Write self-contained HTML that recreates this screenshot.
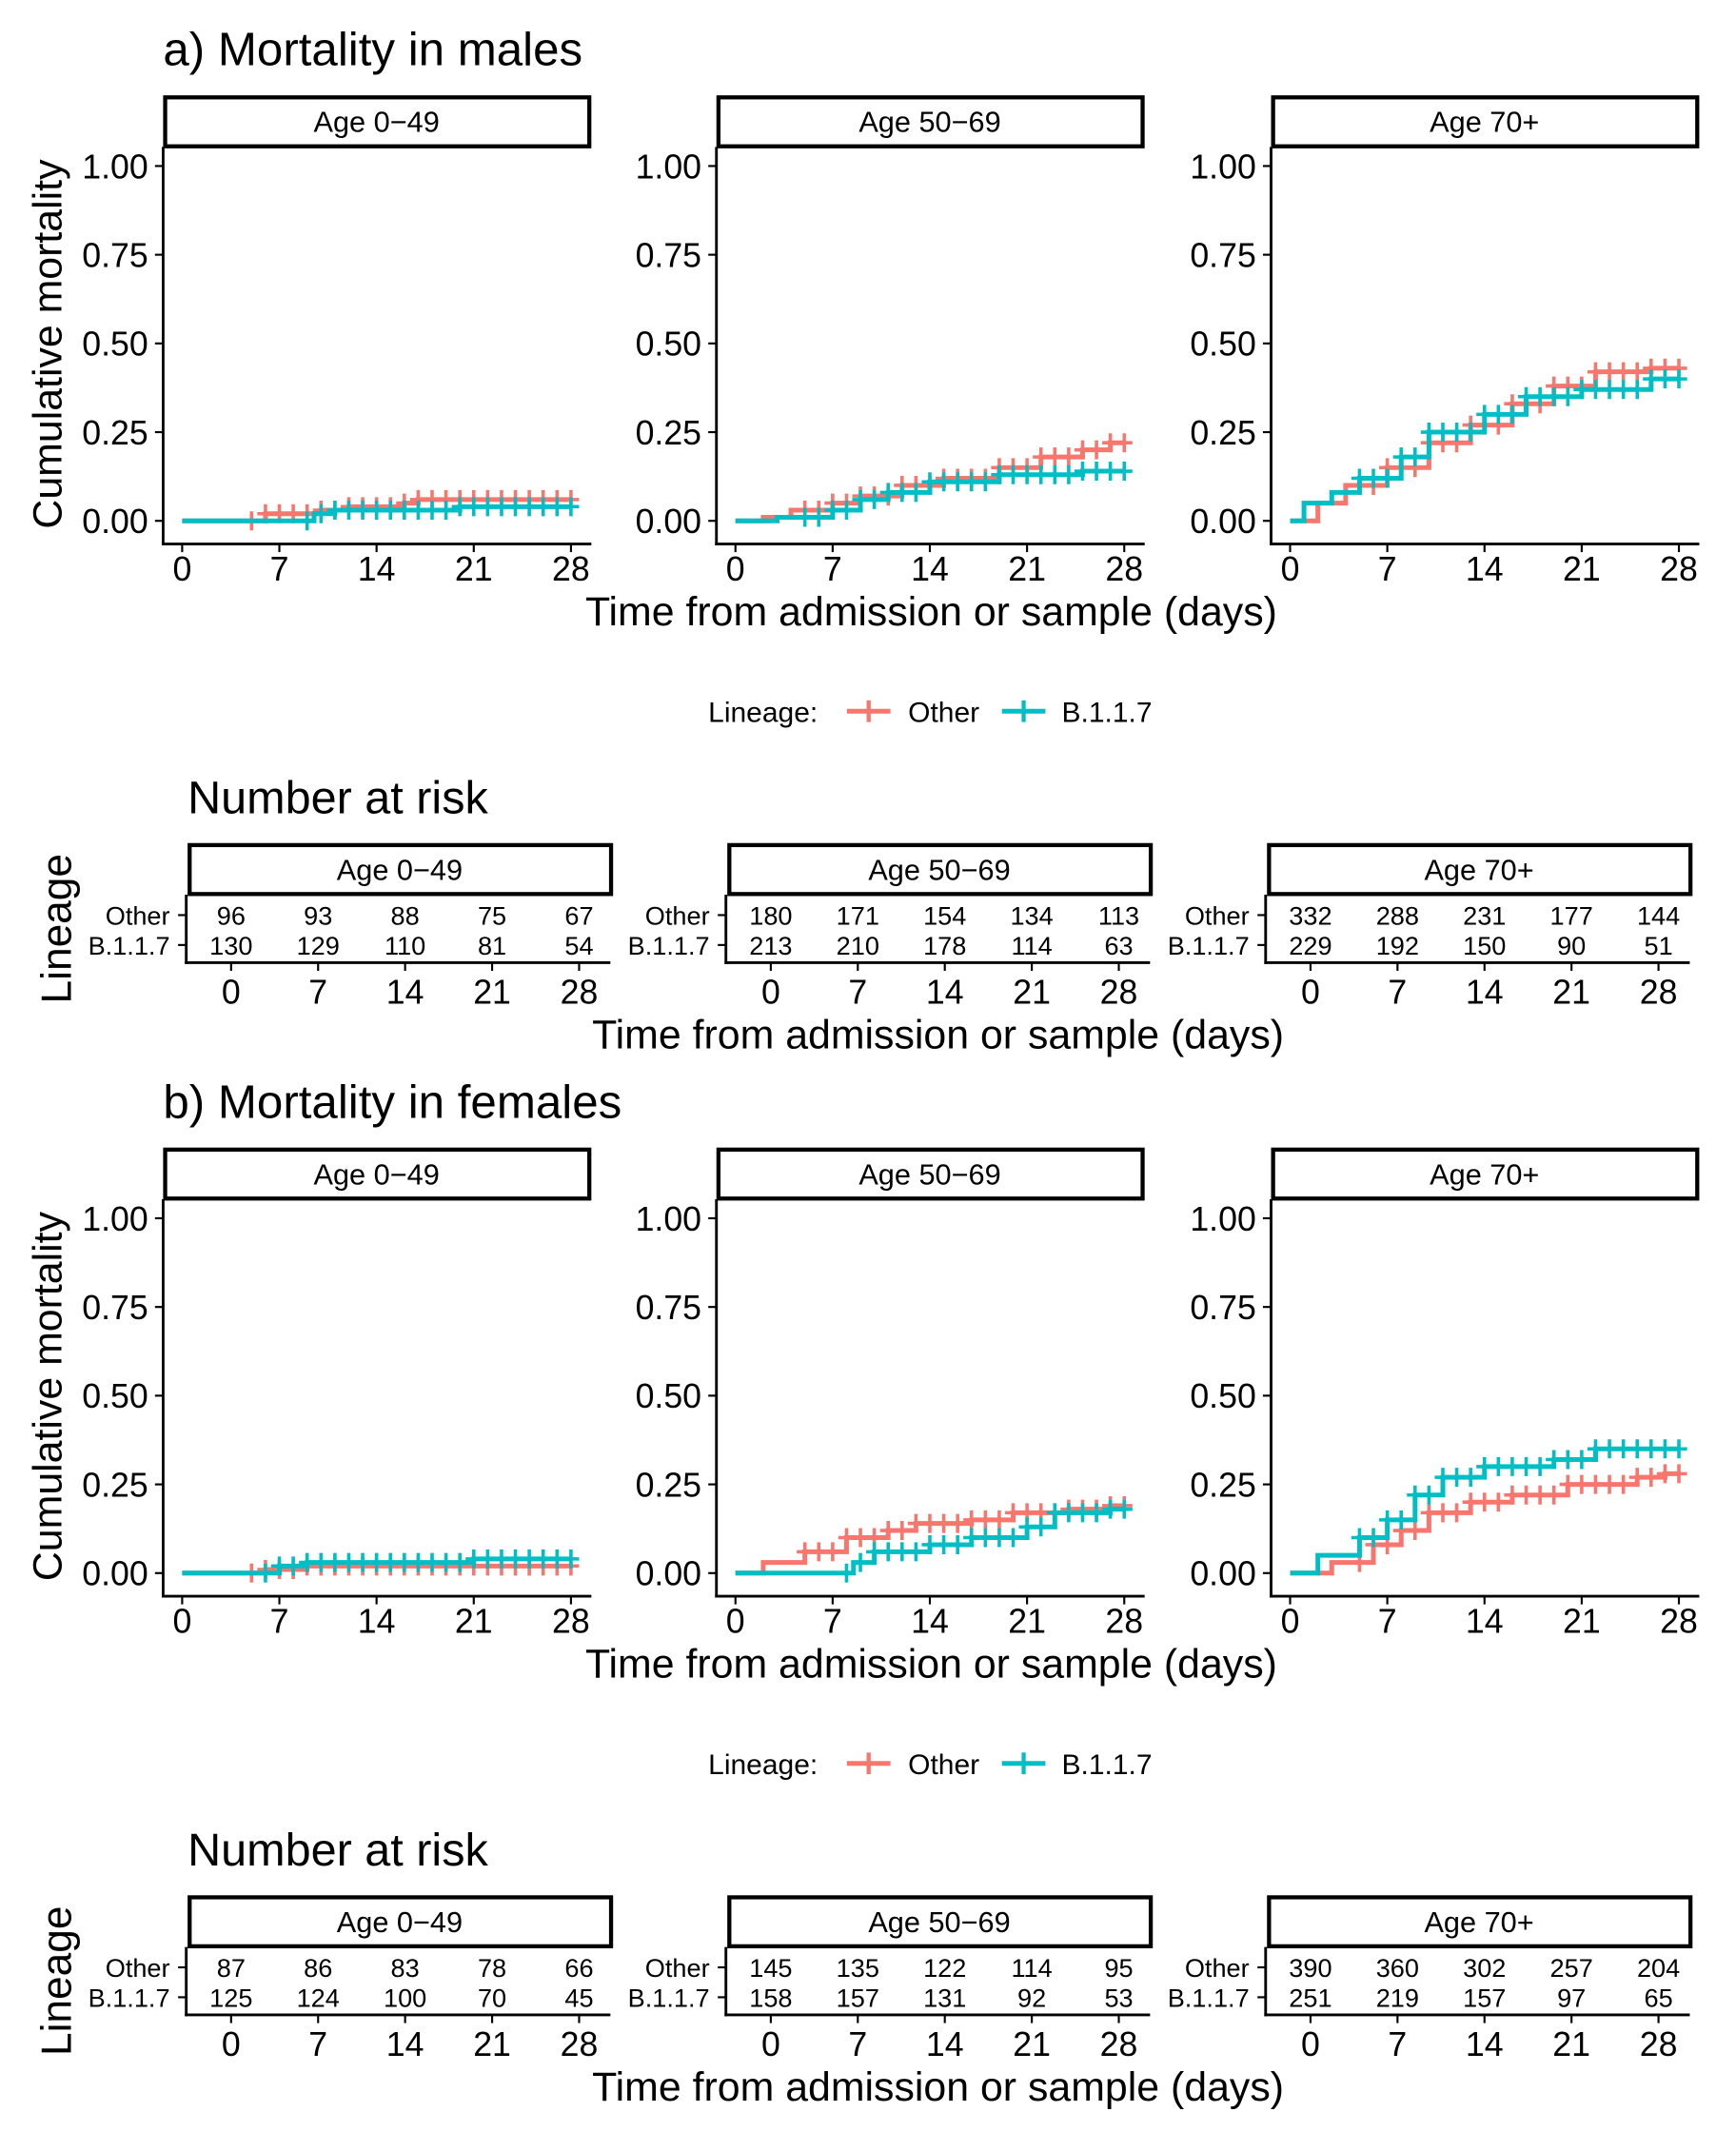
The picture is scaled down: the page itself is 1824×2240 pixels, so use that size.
<!DOCTYPE html>
<html><head><meta charset="utf-8"><style>body{margin:0;background:#fff}svg{display:block}text{font-family:"Liberation Sans",Arial,sans-serif;fill:#000}</style></head>
<body>
<svg id="s" width="1824" height="2240" viewBox="0 0 1277 1568" xmlns="http://www.w3.org/2000/svg">
<rect width="1277" height="1568" fill="#fff"/>
<g id="A">
<text x="120" y="48" font-size="34.5">a) Mortality in males</text>
<g id="P0" transform="translate(120,0)"></g>
<g id="P1" transform="translate(527,0)"></g>
<g id="P2" transform="translate(935,0)"></g>
<text transform="translate(45,253) rotate(-90)" text-anchor="middle" font-size="30">Cumulative mortality</text>
<text x="685" y="460" text-anchor="middle" font-size="30">Time from admission or sample (days)</text>
<text x="521" y="531" font-size="21">Lineage:</text>
<line x1="623" y1="523" x2="655" y2="523" stroke="#F8766D" stroke-width="3.5"/><line x1="639" y1="515" x2="639" y2="531" stroke="#F8766D" stroke-width="3"/>
<text x="668" y="531" font-size="21">Other</text>
<line x1="737" y1="523" x2="769" y2="523" stroke="#00BFC4" stroke-width="3.5"/><line x1="753" y1="515" x2="753" y2="531" stroke="#00BFC4" stroke-width="3"/>
<text x="781" y="531" font-size="21">B.1.1.7</text>
<text x="138" y="598" font-size="34">Number at risk</text>
<text transform="translate(52,683) rotate(-90)" text-anchor="middle" font-size="31">Lineage</text>
<text x="690" y="771" text-anchor="middle" font-size="30">Time from admission or sample (days)</text>
<g id="R0" transform="translate(137,0)"><text x="-12" y="680" text-anchor="end" font-size="19">Other</text><text x="-12" y="702" text-anchor="end" font-size="19">B.1.1.7</text>
<text y="680" font-size="19" text-anchor="middle"><tspan x="33">96</tspan><tspan x="97">93</tspan><tspan x="161">88</tspan><tspan x="225">75</tspan><tspan x="289">67</tspan></text>
<text y="702" font-size="19" text-anchor="middle"><tspan x="33">130</tspan><tspan x="97">129</tspan><tspan x="161">110</tspan><tspan x="225">81</tspan><tspan x="289">54</tspan></text></g>
<g id="R1" transform="translate(534,0)"><text x="-12" y="680" text-anchor="end" font-size="19">Other</text><text x="-12" y="702" text-anchor="end" font-size="19">B.1.1.7</text>
<text y="680" font-size="19" text-anchor="middle"><tspan x="33">180</tspan><tspan x="97">171</tspan><tspan x="161">154</tspan><tspan x="225">134</tspan><tspan x="289">113</tspan></text>
<text y="702" font-size="19" text-anchor="middle"><tspan x="33">213</tspan><tspan x="97">210</tspan><tspan x="161">178</tspan><tspan x="225">114</tspan><tspan x="289">63</tspan></text></g>
<g id="R2" transform="translate(931,0)"><text x="-12" y="680" text-anchor="end" font-size="19">Other</text><text x="-12" y="702" text-anchor="end" font-size="19">B.1.1.7</text>
<text y="680" font-size="19" text-anchor="middle"><tspan x="33">332</tspan><tspan x="97">288</tspan><tspan x="161">231</tspan><tspan x="225">177</tspan><tspan x="289">144</tspan></text>
<text y="702" font-size="19" text-anchor="middle"><tspan x="33">229</tspan><tspan x="97">192</tspan><tspan x="161">150</tspan><tspan x="225">90</tspan><tspan x="289">51</tspan></text></g>
</g>
<g id="B" transform="translate(0,774)">
<text x="120" y="48" font-size="34.5">b) Mortality in females</text>
<g id="Q0" transform="translate(120,0)"></g>
<g id="Q1" transform="translate(527,0)"></g>
<g id="Q2" transform="translate(935,0)"></g>
<text transform="translate(45,253) rotate(-90)" text-anchor="middle" font-size="30">Cumulative mortality</text>
<text x="685" y="460" text-anchor="middle" font-size="30">Time from admission or sample (days)</text>
<text x="521" y="531" font-size="21">Lineage:</text>
<line x1="623" y1="523" x2="655" y2="523" stroke="#F8766D" stroke-width="3.5"/><line x1="639" y1="515" x2="639" y2="531" stroke="#F8766D" stroke-width="3"/>
<text x="668" y="531" font-size="21">Other</text>
<line x1="737" y1="523" x2="769" y2="523" stroke="#00BFC4" stroke-width="3.5"/><line x1="753" y1="515" x2="753" y2="531" stroke="#00BFC4" stroke-width="3"/>
<text x="781" y="531" font-size="21">B.1.1.7</text>
<text x="138" y="598" font-size="34">Number at risk</text>
<text transform="translate(52,683) rotate(-90)" text-anchor="middle" font-size="31">Lineage</text>
<text x="690" y="771" text-anchor="middle" font-size="30">Time from admission or sample (days)</text>
<g id="S0" transform="translate(137,0)"><text x="-12" y="680" text-anchor="end" font-size="19">Other</text><text x="-12" y="702" text-anchor="end" font-size="19">B.1.1.7</text>
<text y="680" font-size="19" text-anchor="middle"><tspan x="33">87</tspan><tspan x="97">86</tspan><tspan x="161">83</tspan><tspan x="225">78</tspan><tspan x="289">66</tspan></text>
<text y="702" font-size="19" text-anchor="middle"><tspan x="33">125</tspan><tspan x="97">124</tspan><tspan x="161">100</tspan><tspan x="225">70</tspan><tspan x="289">45</tspan></text></g>
<g id="S1" transform="translate(534,0)"><text x="-12" y="680" text-anchor="end" font-size="19">Other</text><text x="-12" y="702" text-anchor="end" font-size="19">B.1.1.7</text>
<text y="680" font-size="19" text-anchor="middle"><tspan x="33">145</tspan><tspan x="97">135</tspan><tspan x="161">122</tspan><tspan x="225">114</tspan><tspan x="289">95</tspan></text>
<text y="702" font-size="19" text-anchor="middle"><tspan x="33">158</tspan><tspan x="97">157</tspan><tspan x="161">131</tspan><tspan x="225">92</tspan><tspan x="289">53</tspan></text></g>
<g id="S2" transform="translate(931,0)"><text x="-12" y="680" text-anchor="end" font-size="19">Other</text><text x="-12" y="702" text-anchor="end" font-size="19">B.1.1.7</text>
<text y="680" font-size="19" text-anchor="middle"><tspan x="33">390</tspan><tspan x="97">360</tspan><tspan x="161">302</tspan><tspan x="225">257</tspan><tspan x="289">204</tspan></text>
<text y="702" font-size="19" text-anchor="middle"><tspan x="33">251</tspan><tspan x="97">219</tspan><tspan x="161">157</tspan><tspan x="225">97</tspan><tspan x="289">65</tspan></text></g>
</g>
</svg>
<script>
var NS="http://www.w3.org/2000/svg";
function el(p,t,a){var e=document.createElementNS(NS,t);for(var k in a)e.setAttribute(k,a[k]);p.appendChild(e);return e;}
var titles=["Age 0\u221249","Age 50\u221269","Age 70+"];
var data={
P0:[[[0,0],[5,0],[6,.02],[10,.03],[12,.04],[16,.05],[17,.06]],[[0,0],[9,0],[9.5,.02],[11,.03],[20,.04]]],
P1:[[[0,0],[2,.01],[4,.03],[7,.05],[9,.07],[12,.10],[15,.12],[19,.15],[22,.18],[25,.20],[27,.22]],[[0,0],[3,.01],[7,.03],[9,.06],[11,.08],[14,.11],[19,.13],[25,.14]]],
P2:[[[0,0],[2,.05],[4,.10],[7,.15],[10,.22],[13,.27],[16,.33],[19,.38],[22,.42],[26,.43]],[[0,0],[1,.05],[3,.08],[5,.12],[8,.18],[10,.25],[14,.30],[17,.35],[21,.37],[26,.40]]],
Q0:[[[0,0],[5,0],[6,.01],[9,.02],[12,.02]],[[0,0],[6,0],[7,.02],[9,.03],[21,.04]]],
Q1:[[[0,0],[2,.03],[5,.06],[8,.10],[11,.12],[13,.14],[17,.15],[20,.17],[24,.18],[27,.19]],[[0,0],[8,0],[8.5,.03],[10,.06],[14,.08],[17,.10],[21,.13],[23,.17],[27,.18]]],
Q2:[[[0,0],[3,.03],[6,.08],[8,.12],[10,.17],[13,.20],[16,.22],[20,.25],[25,.27],[27,.28]],[[0,0],[2,.05],[5,.10],[7,.15],[9,.22],[11,.27],[14,.30],[19,.32],[22,.35]]]
};
function X(t){return 14+t*286/28;}function Y(v){return 383-v*261;}
["P0","P1","P2","Q0","Q1","Q2"].forEach(function(id,i){
 var g=document.getElementById(id);
 el(g,"rect",{x:1.5,y:71.5,width:312,height:36,fill:"#fff",stroke:"#000","stroke-width":3});
 var t=el(g,"text",{x:157,y:97,"text-anchor":"middle","font-size":21.5});t.textContent=titles[i%3];
 el(g,"line",{x1:0,y1:108,x2:0,y2:401,stroke:"#000","stroke-width":2});
 el(g,"line",{x1:-1,y1:400,x2:315,y2:400,stroke:"#000","stroke-width":2});
 ["0.00","0.25","0.50","0.75","1.00"].forEach(function(l,k){var y=Y(k*.25);
  el(g,"line",{x1:-6,y1:y,x2:0,y2:y,stroke:"#000","stroke-width":1.5});
  var tt=el(g,"text",{x:-11,y:y+9,"text-anchor":"end","font-size":25});tt.textContent=l;});
 [0,7,14,21,28].forEach(function(d){var x=X(d);
  el(g,"line",{x1:x,y1:400,x2:x,y2:406,stroke:"#000","stroke-width":1.5});
  var tt=el(g,"text",{x:x,y:427,"text-anchor":"middle","font-size":25});tt.textContent=d;});
 var cols=["#F8766D","#00BFC4"];
 data[id].forEach(function(s,c){
  var d="M"+X(0)+","+Y(0);
  for(var j=1;j<s.length;j++){d+=" H"+X(s[j][0])+" V"+Y(s[j][1]);}
  d+=" H"+X(28);
  el(g,"path",{d:d,fill:"none",stroke:cols[c],"stroke-width":3.5});
  var st=s[1]?Math.max(5,s[1][0]):5;
  for(var t=st;t<=28;t+=1){var v=0;for(var j=0;j<s.length;j++)if(s[j][0]<=t)v=s[j][1];
   var x=X(t),y=Y(v);
   el(g,"path",{d:"M"+(x-6)+","+y+"H"+(x+6)+"M"+x+","+(y-7)+"V"+(y+7),stroke:cols[c],"stroke-width":2.5});}
 });
});
["R0","R1","R2","S0","S1","S2"].forEach(function(id,i){
 var g=document.getElementById(id);
 el(g,"rect",{x:2.5,y:621.5,width:310,height:36,fill:"#fff",stroke:"#000","stroke-width":3});
 var t=el(g,"text",{x:157,y:647,"text-anchor":"middle","font-size":21.5});t.textContent=titles[i%3];
 el(g,"line",{x1:0,y1:658,x2:0,y2:709,stroke:"#000","stroke-width":2});
 el(g,"line",{x1:-1,y1:708,x2:312,y2:708,stroke:"#000","stroke-width":2});
 [673,695].forEach(function(y){el(g,"line",{x1:-6,y1:y,x2:0,y2:y,stroke:"#000","stroke-width":1.5});});
 [0,7,14,21,28].forEach(function(d,k){var x=33+64*k;
  el(g,"line",{x1:x,y1:708,x2:x,y2:714,stroke:"#000","stroke-width":1.5});
  var tt=el(g,"text",{x:x,y:738,"text-anchor":"middle","font-size":25});tt.textContent=d;});
});
</script>
</body></html>
